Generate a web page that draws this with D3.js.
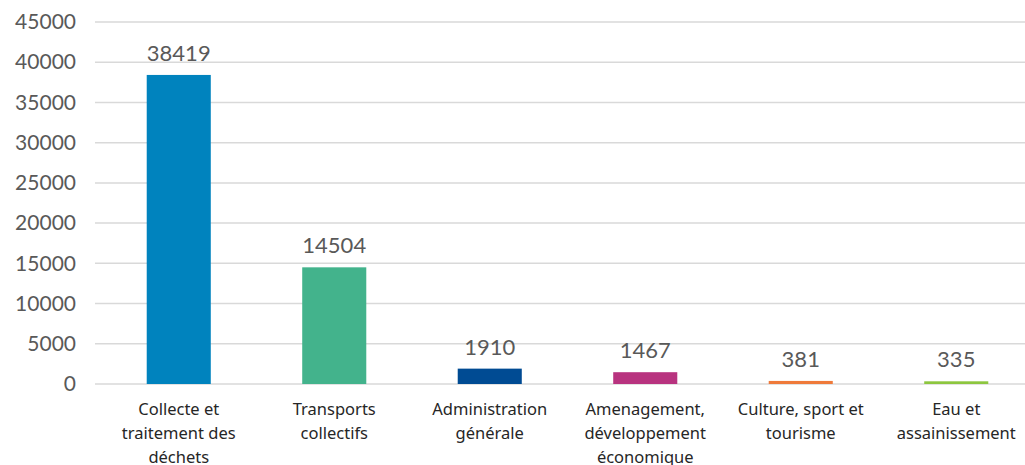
<!DOCTYPE html>
<html>
<head>
<meta charset="utf-8">
<script src="https://cdn.jsdelivr.net/npm/d3@7"></script>
<style>
  body { margin: 0; background: #fff; }
  svg { display: block; }
</style>
</head>
<body>
<svg id="chart"></svg>
<script>
// chart data
const categories = [
    ["Collecte et", "traitement des", "déchets"],
    ["Transports", "collectifs"],
    ["Administration", "générale"],
    ["Amenagement,", "développement", "économique"],
    ["Culture, sport et", "tourisme"],
    ["Eau et", "assainissement"]
];
const values = [38419, 14504, 1910, 1467, 381, 335];
const barColors = ["#0083be", "#43b38c", "#004b93", "#b8337f", "#ef7a3a", "#8dc63f"];
const yTicks = [0, 5000, 10000, 15000, 20000, 25000, 30000, 35000, 40000, 45000];

const W = 1025, H = 465;
const svg = d3.select("#chart").attr("width", W).attr("height", H);

//scales
const x = d3.scaleBand()
    .domain(d3.range(values.length))
    .range([101, 1034])
    .paddingInner(0.588)
    .paddingOuter(0.294);
const y = d3.scaleLinear()
    .domain([0, 45000])
    .range([384, 22]);

//gridlines
svg.append("g").selectAll("line").data(yTicks).join("line")
    .attr("x1", 95).attr("x2", W)
    .attr("y1", d => y(d)).attr("y2", d => y(d))
    .attr("stroke", "#d9d9d9")
    .attr("stroke-width", 1.5);

//y axis labels
const yAxis = svg.append("g")
    .attr("transform", "translate(76,0)")
    .call(d3.axisLeft(y).tickValues(yTicks).tickFormat(d3.format("d")).tickSize(0).tickPadding(0));
yAxis.select(".domain").remove();
yAxis.selectAll("text")
    .attr("font-family", "Lato, 'Open Sans', sans-serif")
    .attr("font-size", 21)
    .attr("fill", "#595959");

//bars
svg.append("g").selectAll("rect").data(values).join("rect")
    .attr("x", (d, i) => x(i))
    .attr("width", x.bandwidth())
    .attr("y", d => y(d))
    .attr("height", d => y(0) - y(d))
    .attr("fill", (d, i) => barColors[i]);

//value labels
svg.append("g").selectAll("text").data(values).join("text")
    .attr("x", (d, i) => x(i) + x.bandwidth() / 2)
    .attr("y", d => y(d) - 14)
    .attr("text-anchor", "middle")
    .attr("font-family", "Lato, 'Open Sans', sans-serif")
    .attr("font-size", 22)
    .attr("fill", "#595959")
    .text(d => d);

//category labels
const catGroups = svg.append("g").selectAll("text").data(categories).join("text")
    .attr("text-anchor", "middle")
    .attr("font-family", "'Noto Sans', 'Open Sans', sans-serif")
    .attr("font-size", 16.5)
    .attr("fill", "#262626");
catGroups.selectAll("tspan").data((d, i) => d.map(line => ({line, i}))).join("tspan")
    .attr("x", d => x(d.i) + x.bandwidth() / 2)
    .attr("y", (d, j) => 415 + j * 24)
    .text(d => d.line);
</script>
</body>
</html>
